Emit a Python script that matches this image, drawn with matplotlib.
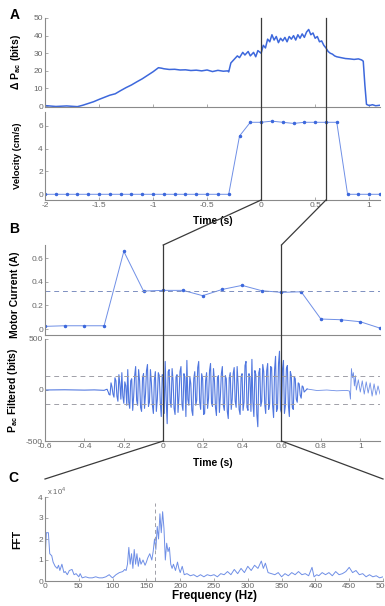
import numpy as np
import matplotlib
matplotlib.use('Agg')
import matplotlib.pyplot as plt
from matplotlib.lines import Line2D

plt.rcParams['font.family'] = ['Liberation Sans', 'DejaVu Sans']
plt.rcParams['mathtext.fontset'] = 'custom'
plt.rcParams['mathtext.rm'] = 'Liberation Sans'
plt.rcParams['mathtext.bf'] = 'Liberation Sans:bold'

# ---- data ----
# panel A, delta Pac (bits) vs time (s)
dp_t = [-2.0, -1.9, -1.8, -1.7, -1.65, -1.6, -1.55, -1.5, -1.45, -1.4, -1.35, -1.3, -1.25,
        -1.2, -1.15, -1.1, -1.05, -1.0, -0.95, -0.92, -0.9, -0.85, -0.8, -0.75, -0.7, -0.65,
        -0.6, -0.55, -0.5, -0.45, -0.4, -0.35, -0.31, -0.3, -0.28, -0.25, -0.22, -0.2, -0.17,
        -0.15, -0.12, -0.1, -0.07, -0.05, -0.03, 0.0, 0.02, 0.04, 0.06, 0.08, 0.1, 0.12, 0.14,
        0.16, 0.18, 0.2, 0.22, 0.24, 0.26, 0.28, 0.3, 0.32, 0.34, 0.36, 0.38, 0.4, 0.42, 0.44,
        0.46, 0.48, 0.5, 0.52, 0.54, 0.56, 0.58, 0.6, 0.62, 0.64, 0.66, 0.68, 0.7, 0.74, 0.78,
        0.82, 0.86, 0.9, 0.93, 0.945, 0.96, 0.975, 1.0, 1.03, 1.06, 1.1]
dp = [0.3, -0.2, 0.1, -0.3, 0.5, 1.5, 2.5, 3.8, 5.0, 6.2, 7.0, 8.8, 10.5,
      12.0, 13.8, 15.5, 17.5, 19.5, 21.8, 21.5, 21.2, 20.8, 20.9, 20.5, 20.6, 20.2,
      20.4, 20.0, 20.5, 19.6, 20.3, 19.8, 20.0, 19.4, 24.5, 26.5, 28.5, 27.5, 30.5,
      29.0, 31.0, 28.5, 30.5, 28.0, 31.5, 30.0, 34.5, 33.0, 38.0, 36.5, 40.5, 37.5, 39.5,
      36.0, 38.5, 37.0, 39.0, 36.5, 39.5, 38.0, 40.0, 37.5, 40.5, 38.5, 41.0, 39.0, 42.0, 43.5,
      40.5, 41.5, 38.5, 39.5, 36.5, 37.0, 34.5, 33.0, 31.0, 30.0, 29.5, 28.5, 28.0, 27.5, 27.0,
      26.8, 26.5, 26.8, 26.2, 25.5, 12.0, 1.0, 0.3, 0.8, 0.2, 0.5]

# velocity (cm/s), one sample each 0.1 s
vel_t = np.round(np.arange(-2.0, 1.15, 0.1), 2)
vel = [0, 0, 0, 0, 0, 0, 0, 0, 0, 0, 0, 0, 0, 0, 0, 0, 0, 0,
       5.1, 6.3, 6.3, 6.4, 6.3, 6.2, 6.3, 6.3, 6.3, 6.3, 0, 0, 0, 0]

# panel B, motor current (A)
cur_t = np.round(np.arange(-0.6, 1.15, 0.1), 2)
cur = [0.023, 0.028, 0.028, 0.028, 0.656, 0.321, 0.327, 0.327, 0.282, 0.335,
       0.369, 0.324, 0.31, 0.315, 0.085, 0.079, 0.062, 0.008]
cur_mean = 0.324

# filtered Pac (bits)
filt_pre_t = [-0.6, -0.5, -0.4, -0.35, -0.3, -0.285, -0.275]
filt_pre = [0, 2, -1, 1, -3, 8, -40]
filt_burst_t = np.round(np.linspace(-0.27, 0.72, 100), 3)
filt_burst = [-50, 30, -70, 90, -110, 60, 170, -130, 40, 200,
              -180, 110, -60, 230, -150, 90, -210, 160, -40, 250,
              -120, 70, -230, 180, -90, 140, -260, 120, 280, -330,
              200, -170, 90, -240, 150, -60, 230, -200, 120, 290,
              -150, 60, -250, 180, -100, 280, -190, 110, -230, 170,
              -80, 260, -160, 90, -250, 140, -60, 230, -200, 110,
              -280, 170, -90, 220, -170, 60, -240, 160, -120, 280,
              -200, 120, 300, -260, 150, -360, 210, -110, 180, -230,
              260, -140, 220, -270, 330, -180, 380, -220, 290, -150,
              240, -260, 140, -190, 110, -120, 60, -80, 30, -10]
# in-between samples of the burst
filt_mid_t = np.round(np.linspace(-0.265, 0.715, 99), 3)
filt_mid = [70, -40, 120, -60, 150, -90, -60, 80, -150, -120,
            90, -200, 140, -100, 200, -170, 120, -180, 190, -160,
            200, -150, 100, -210, 170, -120, 150, -230, -100, 180,
            -120, 210, -180, 130, -220, 180, -140, 160, -260, -90,
            130, -200, 110, -150, 220, -120, 160, -240, 90, -180,
            190, -130, 210, -170, 120, -220, 160, -150, 140, -210,
            120, -190, 160, -110, 230, -190, 130, -200, 240, -170,
            160, -210, -120, 190, -240, 170, -160, 250, -140, 190,
            -190, 230, -150, 200, -210, 260, -190, 200, -230, 210,
            -150, 180, -170, 130, -90, 70, -50, 40, -20]
filt_post_t = [0.73, 0.78, 0.83, 0.88, 0.93, 0.945, 0.95, 0.955, 0.96, 0.965, 0.97, 0.975, 0.98,
               0.99, 1.0, 1.01, 1.02, 1.03, 1.04, 1.05, 1.06, 1.07, 1.08, 1.09, 1.1]
filt_post = [10, -5, 0, -8, -4, -10, -90, 210, 120, 170, 40, 140, 0,
             100, -20, 90, -40, 80, -30, 70, -60, 60, -50, 40, -40]
filt_thr = 137

# panel C, FFT (x 10^4) vs frequency (Hz)
fft_f = [0, 2, 5, 7, 10, 12, 15, 18, 20, 22, 25, 28, 30, 33, 36, 40, 43, 46, 50, 52, 55, 60,
         65, 70, 75, 80, 85, 90, 95, 98, 100, 105, 110, 115, 118, 120, 122, 124, 126, 128, 130,
         132, 134, 136, 138, 140, 142, 145, 148, 150, 152, 155, 158, 160, 162, 164, 166, 168,
         170, 172, 174, 176, 178, 180, 182, 184, 186, 188, 190, 193, 196, 198, 200, 203, 206,
         210, 215, 220, 225, 230, 235, 240, 245, 250, 255, 260, 265, 270, 275, 280, 285, 290,
         295, 300, 305, 310, 315, 320, 323, 326, 330, 335, 340, 345, 350, 355, 360, 365, 370,
         375, 380, 385, 390, 395, 398, 402, 405, 410, 415, 420, 425, 430, 435, 440, 445, 450,
         455, 460, 465, 470, 475, 480, 485, 490, 495, 500]
fft_e4 = [1.0, 2.3, 2.3, 1.3, 1.2, 0.9, 0.7, 0.6, 0.75, 0.5, 0.8, 0.4, 0.45, 0.3, 0.5, 0.55,
          0.3, 0.35, 0.2, 0.35, 0.15, 0.2, 0.15, 0.15, 0.2, 0.15, 0.15, 0.2, 0.3, 0.2, 0.15, 0.3,
          0.4, 0.45, 0.55, 0.5, 0.8, 1.6, 0.8, 1.3, 0.6, 1.5, 0.8, 1.3, 0.7, 1.1, 0.8, 1.0, 0.75,
          0.9, 1.1, 1.3, 1.0, 1.4, 2.0, 1.5, 2.6, 2.0, 3.2, 2.3, 3.3, 2.5, 1.0, 1.8, 1.4, 1.6,
          0.8, 0.6, 0.8, 0.5, 0.9, 0.6, 0.4, 0.7, 0.3, 0.35, 0.25, 0.3, 0.2, 0.3, 0.2, 0.3, 0.25,
          0.3, 0.2, 0.35, 0.3, 0.45, 0.3, 0.55, 0.35, 0.6, 0.4, 0.7, 0.5, 0.75, 0.6, 0.95, 0.6,
          0.85, 0.4, 0.35, 0.3, 0.4, 0.2, 0.35, 0.25, 0.4, 0.3, 0.45, 0.3, 0.35, 0.25, 0.65, 0.2,
          0.3, 0.25, 0.4, 0.3, 0.4, 0.25, 0.45, 0.3, 0.35, 0.45, 0.65, 0.4, 0.5, 0.3, 0.35, 0.2,
          0.3, 0.2, 0.25, 0.15, 0.2]
fft_mark = 162
fft_mark_top = 3.7

W, H = 385, 606
BLUE = '#3d68dc'
LBLUE = '#6f8fe6'
GRAY = '#666666'
DARK = '#3a3a3a'

fig = plt.figure(figsize=(W / 100, H / 100), dpi=100)


def box(l, t, r, b):
    return [l / W, 1 - b / H, (r - l) / W, (b - t) / H]


def style(ax):
    for s in ['top', 'right']:
        ax.spines[s].set_visible(False)
    for s in ['left', 'bottom']:
        ax.spines[s].set_color('#8a8a8a')
        ax.spines[s].set_linewidth(0.8)
    ax.tick_params(direction='in', length=2, width=0.5, colors='#8a8a8a',
                   labelsize=6, labelcolor=GRAY, pad=1.5)


ax1 = fig.add_axes(box(45, 18, 380, 107))
ax2 = fig.add_axes(box(45, 112, 380, 200))
ax3 = fig.add_axes(box(45, 245, 380, 335))
ax4 = fig.add_axes(box(45, 339, 380, 441))
ax5 = fig.add_axes(box(45, 497, 383, 581))
for a in [ax1, ax2, ax3, ax4, ax5]:
    style(a)

lab = dict(fontsize=7.5, fontweight='bold')

# A top
ax1.plot(dp_t, dp, color=BLUE, lw=1.1)
ax1.set_xlim(-2, 1.1)
ax1.set_ylim(-0.5, 50)
ax1.set_yticks([0, 10, 20, 30, 40, 50])
ax1.set_xticks([-2, -1.5, -1, -0.5, 0, 0.5, 1])
ax1.set_xticklabels([])
ax1.set_ylabel(r'$\mathbf{\Delta\ P_{ac}}$ (bits)', **lab)
ax1.yaxis.set_label_coords(-0.066, 0.5)

# A velocity
ax2.plot(vel_t, vel, color=LBLUE, lw=0.7, marker='o', ms=1.5, mfc=BLUE, mec=BLUE)
ax2.set_xlim(-2, 1.1)
ax2.set_ylim(-0.5, 7.2)
ax2.set_yticks([0, 2, 4, 6])
ax2.set_xticks([-2, -1.5, -1, -0.5, 0, 0.5, 1])
ax2.set_xticklabels(['-2', '-1.5', '-1', '-0.5', '0', '0.5', '1'])
ax2.set_ylabel('Velocity (cm/s)', fontsize=6.8, fontweight='bold')
ax2.yaxis.set_label_coords(-0.068, 0.5)
ax2.set_xlabel('Time (s)', labelpad=5, **lab)

# B motor current
ax3.plot(cur_t, cur, color=LBLUE, lw=0.7, marker='o', ms=1.5, mfc=BLUE, mec=BLUE)
ax3.axhline(cur_mean, color='#7d8fc0', lw=0.7, ls=(0, (5, 4)))
ax3.set_xlim(-0.6, 1.1)
ax3.set_ylim(-0.05, 0.71)
ax3.set_yticks([0, 0.2, 0.4, 0.6])
ax3.set_yticklabels(['0', '0.2', '0.4', '0.6'])
ax3.set_xticks([])
ax3.set_ylabel('Motor Current (A)', **lab)
ax3.yaxis.set_label_coords(-0.075, 0.45)

# B filtered
ax4.plot(filt_pre_t, filt_pre, color=BLUE, lw=0.7)
ax4.plot(filt_post_t, filt_post, color=LBLUE, lw=0.6)
burst = sorted(zip(list(filt_burst_t) + list(filt_mid_t), filt_burst + filt_mid))
ax4.plot([filt_pre_t[-1]] + [b[0] for b in burst] + [filt_post_t[0]],
         [filt_pre[-1]] + [b[1] for b in burst] + [filt_post[0]],
         color=BLUE, lw=0.8, alpha=0.9)
for v in [filt_thr, -filt_thr]:
    ax4.axhline(v, color='#a0a0a8', lw=0.7, ls=(0, (5, 4)))
ax4.set_xlim(-0.6, 1.1)
ax4.set_ylim(-500, 500)
ax4.set_yticks([-500, 0, 500])
ax4.set_yticklabels(['-500', '0', '500'])
ax4.set_xticks([-0.6, -0.4, -0.2, 0, 0.2, 0.4, 0.6, 0.8, 1])
ax4.set_xticklabels(['-0.6', '-0.4', '-0.2', '0', '0.2', '0.4', '0.6', '0.8', '1'])
ax4.set_ylabel(r'$\mathbf{P_{ac}}$ Filtered (bits)', **lab)
ax4.yaxis.set_label_coords(-0.075, 0.5)
ax4.set_xlabel('Time (s)', labelpad=6, **lab)

# C FFT
ax5.plot(fft_f, fft_e4, color=LBLUE, lw=0.7)
ax5.plot([fft_mark, fft_mark], [0, fft_mark_top], color='#a0a0a8', lw=0.7, ls=(0, (4, 3)))
ax5.set_xlim(0, 500)
ax5.set_ylim(0, 4)
ax5.set_yticks([0, 1, 2, 3, 4])
ax5.set_xticks(range(0, 501, 50))
ax5.set_ylabel('FFT', **lab)
ax5.yaxis.set_label_coords(-0.068, 0.5)
ax5.set_xlabel('Frequency (Hz)', labelpad=0, fontsize=8.5, fontweight='bold')
ax5.text(0.005, 1.0, r'x 10$^4$', transform=ax5.transAxes, fontsize=5.5, color=GRAY,
         va='bottom', ha='left')

# panel letters
fig.text(15 / W, 1 - 15 / H, 'A', fontsize=10, fontweight='bold', ha='center', va='center')
fig.text(14 / W, 1 - 229 / H, 'B', fontsize=10, fontweight='bold', ha='center', va='center')
fig.text(13 / W, 1 - 478 / H, 'C', fontsize=10, fontweight='bold', ha='center', va='center')

# zoom connector lines
inv = fig.transFigure.inverted()


def fp(tr, x, y):
    return inv.transform(tr.transform((x, y)))


def seg(p, q):
    fig.add_artist(Line2D([p[0], q[0]], [p[1], q[1]], transform=fig.transFigure,
                          color=DARK, lw=0.9, clip_on=False))


c_top = 1 + 18 / 84
for t, xc in [(0, 0.0), (0.6, 1.0)]:
    a_top = fp(ax1.transData, t, 50)
    a_bot = fp(ax2.transData, t, -0.5)
    b_top = fp(ax3.transData, t, 0.71)
    b_bot = fp(ax4.transData, t, -500)
    c_pt = fp(ax5.transAxes, xc, c_top)
    seg(a_top, a_bot)
    seg(a_bot, b_top)
    seg(b_top, b_bot)
    seg(b_bot, c_pt)

fig.savefig('out.png', dpi=100)
